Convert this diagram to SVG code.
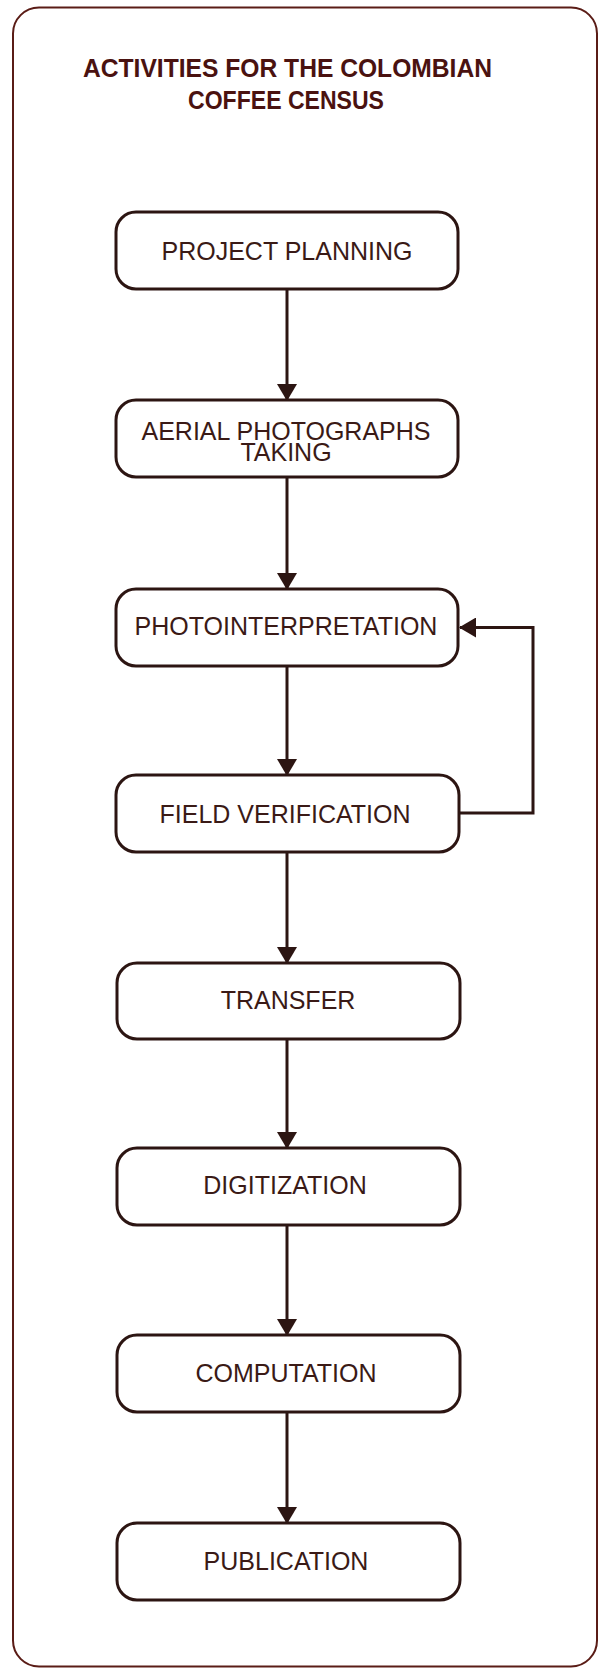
<svg xmlns="http://www.w3.org/2000/svg" width="600" height="1668" viewBox="0 0 600 1668">
<style>
.frame{fill:#ffffff;stroke:#5a1c16;stroke-width:2}
.box{fill:#ffffff;stroke:#2c1512;stroke-width:3}
.lbl{font-family:"Liberation Sans",Arial,Helvetica,sans-serif;font-size:25px;fill:#3a1a16;text-anchor:middle}
.title{font-family:"Liberation Sans",Arial,Helvetica,sans-serif;font-size:25px;font-weight:bold;fill:#4a1210}
.conn{fill:none;stroke:#2c1512;stroke-width:3;marker-end:url(#arr)}
</style>
<defs>
<marker id="arr" viewBox="0 0 17 20" refX="16" refY="10" markerWidth="17" markerHeight="20" markerUnits="userSpaceOnUse" orient="auto">
<path d="M0,0 L17,10 L0,20 z" fill="#2c1512"/>
</marker>
</defs>
<rect class="frame" x="13" y="7.5" width="584" height="1659" rx="26"/>
<g id="title">
<text class="title" x="83" y="77" textLength="409" lengthAdjust="spacingAndGlyphs">ACTIVITIES FOR THE COLOMBIAN</text>
<text class="title" x="188" y="109" textLength="196" lengthAdjust="spacingAndGlyphs">COFFEE CENSUS</text>
</g>
<g id="connectors">
<path class="conn" d="M287,289.5 V400"/>
<path class="conn" d="M287,478 V589"/>
<path class="conn" d="M287,666 V775"/>
<path class="conn" d="M287,852 V963"/>
<path class="conn" d="M287,1040 V1148"/>
<path class="conn" d="M287,1225 V1335"/>
<path class="conn" d="M287,1412 V1523"/>
<path class="conn" d="M459,813 H533 V627.5 H460"/>
</g>
<g id="project-planning">
<rect class="box" x="116" y="212" width="342" height="77" rx="20"/>
<text class="lbl" x="287" y="260">PROJECT PLANNING</text>
</g>
<g id="aerial-photographs">
<rect class="box" x="116" y="400" width="342" height="77" rx="20"/>
<text class="lbl" x="286" y="440">AERIAL PHOTOGRAPHS</text>
<text class="lbl" x="286" y="461">TAKING</text>
</g>
<g id="photointerpretation">
<rect class="box" x="116" y="589" width="342" height="77" rx="20"/>
<text class="lbl" x="286" y="635">PHOTOINTERPRETATION</text>
</g>
<g id="field-verification">
<rect class="box" x="116" y="775" width="343" height="77" rx="20"/>
<text class="lbl" x="285" y="823">FIELD VERIFICATION</text>
</g>
<g id="transfer">
<rect class="box" x="117" y="963" width="343" height="76" rx="20"/>
<text class="lbl" x="288" y="1009">TRANSFER</text>
</g>
<g id="digitization">
<rect class="box" x="117" y="1148" width="343" height="77" rx="20"/>
<text class="lbl" x="285" y="1194">DIGITIZATION</text>
</g>
<g id="computation">
<rect class="box" x="117" y="1335" width="343" height="77" rx="20"/>
<text class="lbl" x="286" y="1382">COMPUTATION</text>
</g>
<g id="publication">
<rect class="box" x="117" y="1523" width="343" height="77" rx="20"/>
<text class="lbl" x="286" y="1570">PUBLICATION</text>
</g>
</svg>
